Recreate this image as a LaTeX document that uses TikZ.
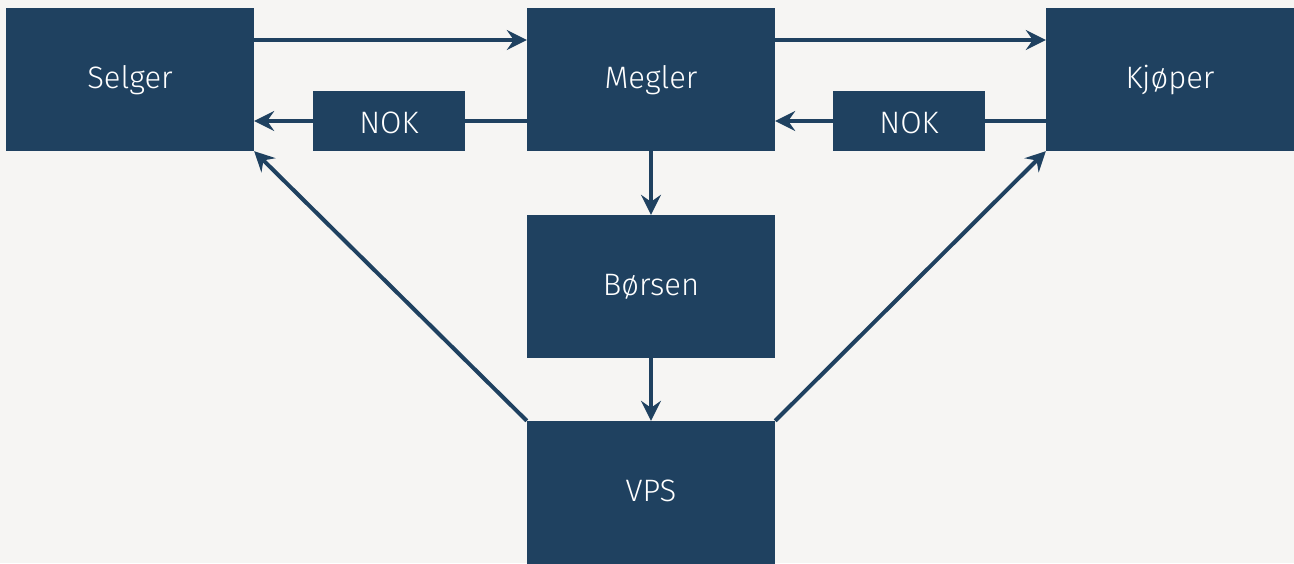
\documentclass[tikz,border=0pt]{standalone}
\usepackage{fontspec}
\setmainfont{Fira Sans}[UprightFont=* Light]
\usetikzlibrary{arrows.meta}
\definecolor{boxblue}{HTML}{1F4160}
\definecolor{paper}{HTML}{F6F5F3}
\tikzset{
  party/.style={fill=boxblue, text=white, minimum width=248pt, minimum height=143pt,
    inner sep=0pt, text height=22pt, text depth=5pt, font=\fontsize{31}{37}\selectfont},
  money/.style={fill=boxblue, text=white, minimum width=152pt, minimum height=60pt,
    inner sep=0pt, text height=29pt, text depth=5pt, font=\fontsize{31}{37}\selectfont},
  flow/.style={draw=boxblue, line width=4pt,
    -{Stealth[length=20pt,width=20pt,inset=7pt]}},
  plain/.style={draw=boxblue, line width=4pt},
}
\begin{document}
\begin{tikzpicture}[x=1pt,y=-1pt]
  \fill[paper] (0,0) rectangle (1294,563);
  \useasboundingbox (0,0) rectangle (1294,563);
  % parties and institutions
  \node[party] (selger) at (130,79.5) {Selger};
  \node[party] (megler) at (651,79.5) {Megler};
  \node[party] (kjoper) at (1170,79.5) {Kjøper};
  \node[party] (borsen) at (651,286.5) {Børsen};
  \node[party] (vps) at (651,492.5) {VPS};
  % payment boxes
  \node[money] (nokl) at (389,121) {NOK};
  \node[money] (nokr) at (909,121) {NOK};
  % connectors
  \coordinate (sm) at (selger.east |- 0,40);
  \coordinate (ms) at (megler.west |- 0,40);
  \draw[flow] (sm) -- (ms);
  \coordinate (mk) at (megler.east |- 0,40);
  \coordinate (km) at (kjoper.west |- 0,40);
  \draw[flow] (mk) -- (km);
  \draw[plain] (megler.west |- nokl) -- (nokl.east);
  \draw[flow] (nokl.west) -- (selger.east |- nokl);
  \draw[plain] (kjoper.west |- nokr) -- (nokr.east);
  \draw[flow] (nokr.west) -- (megler.east |- nokr);
  \draw[flow] (megler.south) -- (borsen.north);
  \draw[flow] (borsen.south) -- (vps.north);
  \draw[flow] (vps.north west) -- (selger.south east);
  \draw[flow] (vps.north east) -- (kjoper.south west);
\end{tikzpicture}
\end{document}
